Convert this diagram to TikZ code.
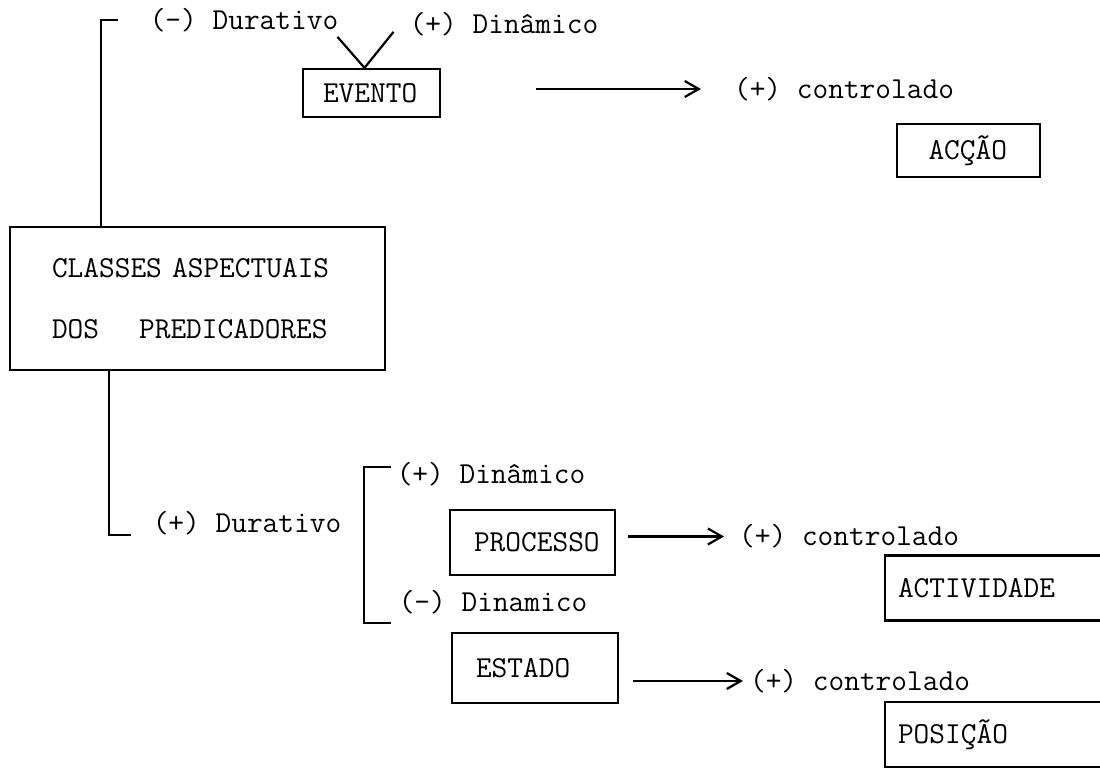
\documentclass[tikz,border=0pt]{standalone}
\usetikzlibrary{positioning,arrows.meta}
\newcommand{\maquina}{\ttfamily\fontsize{30.5}{36}\selectfont}

\begin{document}
\begin{tikzpicture}[x=1pt, y=-1pt, line width=2.2pt,
  caixa/.style 2 args={draw, inner xsep=#1, text width=#2, align=left, font=\maquina},
  rotulo/.style={inner sep=0pt, font=\maquina},
  seta/.style={-{Straight Barb[length=14pt, width=16pt]}}]
  \useasboundingbox (0,0) rectangle (1100,768);
  \node[caixa={42pt}{291pt}, minimum height=143pt,
    font={\ttfamily\fontsize{30.5}{61}\selectfont}] (classes) at (197.5,298.5)
    {CLASSES ASPECTUAIS\\DOS\hspace{40pt}PREDICADORES};
  \node[rotulo] (durneg) at (244,20) {(-) Durativo};
  \node[rotulo] (dinpos) at (504,24) {(+) Din\^amico};
  \node[caixa={20pt}{97pt}, minimum height=48pt] (evento) at (371.5,93) {EVENTO};
  \coordinate (vertice) at ([xshift=-7pt]evento.north);
  \draw ([xshift=-27pt, yshift=31pt]vertice) -- (vertice)
    -- ([xshift=29pt, yshift=36pt]vertice);
  \node[rotulo] (controlado1) at (844,89) {(+) controlado};
  \node[caixa={31.5pt}{80pt}, minimum height=53pt] (accao) at (968.5,150.5) {ACÇÃO};
  \draw[seta, shorten <=95pt, shorten >=32pt] (evento.east |- controlado1.west)
    -- (controlado1.west);
  \node[rotulo] (durpos) at (247,523) {(+) Durativo};
  \draw ([xshift=-31pt]durneg.west) -| ([xshift=92pt]classes.north west);
  \draw ([xshift=100pt]classes.south west) |- ([xshift=-21pt, yshift=-12pt]durpos.west);
  % ramo durativo
  \node[rotulo] (dinpos2) at (491,474) {(+) Din\^amico};
  \node[rotulo] (dinneg) at (493,602) {(-) Dinamico};
  \draw ([xshift=-5pt, yshift=7pt]dinpos2.west) -- ++(-27,0)
    |- ([xshift=-7pt, yshift=-21pt]dinneg.west);
  \node[caixa={24pt}{117pt}, minimum height=65pt] (processo) at (532.5,542.5) {PROCESSO};
  \node[rotulo, right = 122pt of processo, yshift=6pt] (controlado2) {(+) controlado};
  \draw[seta, shorten <=12pt, shorten >=14pt] (processo.east |- controlado2.west)
    -- (controlado2.west);
  \node[caixa={13pt}{240pt}, minimum height=65pt] (actividade) at (1018,588) {ACTIVIDADE};
  \node[caixa={24pt}{118pt}, minimum height=70pt] (estado) at (535,668) {ESTADO};
  \node[rotulo] (controlado3) at (860,681) {(+) controlado};
  \draw[seta, shorten <=14pt, shorten >=6pt] (estado.east |- controlado3.west)
    -- (controlado3.west);
  \node[caixa={13pt}{240pt}, minimum height=65pt] (posicao) at (1018,734.5) {POSIÇÃO};
\end{tikzpicture}
\end{document}
